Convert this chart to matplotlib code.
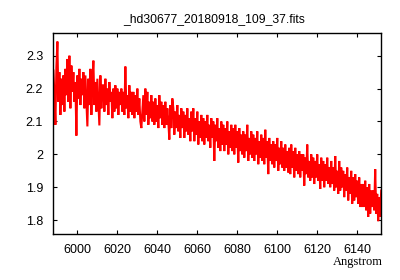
import numpy as np
import matplotlib
matplotlib.use("Agg")
import matplotlib.pyplot as plt

title = "_hd30677_20180918_109_37.fits"
x_label = "Angstrom"
wave_start = 5988.0
wave_step = 0.5
flux = [
    2.255, 2.18, 2.09, 2.265, 2.343, 2.16, 2.25, 2.12, 2.23, 2.15,
    2.24, 2.13, 2.26, 2.18, 2.29, 2.16, 2.30, 2.14, 2.27, 2.19,
    2.25, 2.16, 2.22, 2.057, 2.24, 2.17, 2.26, 2.15, 2.23, 2.18,
    2.25, 2.14, 2.24, 2.16, 2.085, 2.23, 2.15, 2.26, 2.12, 2.22,
    2.285, 2.15, 2.22, 2.13, 2.23, 2.16, 2.088, 2.24, 2.14, 2.21,
    2.21, 2.13, 2.23, 2.15, 2.20, 2.12, 2.22, 2.16, 2.19, 2.11,
    2.20, 2.13, 2.21, 2.14, 2.20, 2.12, 2.19, 2.15, 2.20, 2.13,
    2.19, 2.12, 2.267, 2.14, 2.18, 2.11, 2.21, 2.13, 2.19, 2.12,
    2.19, 2.11, 2.18, 2.13, 2.20, 2.12, 2.17, 2.10, 2.08, 2.13,
    2.18, 2.10, 2.20, 2.12, 2.19, 2.09, 2.16, 2.11, 2.18, 2.10,
    2.16, 2.09, 2.17, 2.10, 2.15, 2.08, 2.18, 2.11, 2.16, 2.09,
    2.15, 2.08, 2.16, 2.09, 2.14, 2.10, 2.045, 2.15, 2.08, 2.17,
    2.14, 2.06, 2.13, 2.08, 2.15, 2.07, 2.12, 2.05, 2.14, 2.08,
    2.13, 2.05, 2.12, 2.07, 2.14, 2.06, 2.11, 2.04, 2.13, 2.07,
    2.14, 2.04, 2.11, 2.06, 2.13, 2.03, 2.10, 2.05, 2.12, 2.04,
    2.11, 2.03, 2.10, 2.05, 2.12, 2.04, 2.09, 2.02, 2.11, 2.05,
    2.10, 1.98, 2.09, 2.04, 2.11, 2.02, 2.08, 2.01, 2.10, 2.03,
    2.09, 2.01, 2.08, 2.03, 2.10, 2.00, 2.07, 2.02, 2.09, 2.01,
    2.08, 2.00, 2.09, 2.02, 2.07, 1.975, 2.08, 2.01, 2.06, 2.00,
    2.07, 1.99, 2.06, 2.01, 2.09, 1.98, 2.05, 2.00, 2.07, 1.99,
    2.06, 1.98, 2.05, 2.00, 2.07, 1.97, 2.04, 1.99, 2.06, 1.98,
    2.05, 1.97, 2.075, 1.99, 2.04, 1.94, 2.05, 1.98, 2.03, 1.97,
    2.04, 1.96, 2.03, 1.98, 2.05, 1.95, 2.02, 1.97, 2.04, 1.96,
    2.02, 1.95, 2.03, 1.96, 2.01, 1.945, 2.02, 1.94, 2.03, 1.96,
    2.01, 1.93, 2.02, 1.95, 2.00, 1.94, 2.01, 1.93, 2.00, 1.95,
    2.00, 1.905, 1.99, 1.94, 2.03, 1.93, 1.98, 1.92, 2.00, 1.93,
    1.99, 1.91, 1.98, 1.93, 2.00, 1.92, 1.97, 1.895, 1.99, 1.92,
    1.98, 1.90, 1.97, 1.92, 1.99, 1.91, 1.96, 1.90, 1.98, 1.91,
    1.96, 1.89, 1.995, 1.90, 1.95, 1.88, 1.98, 1.89, 1.96, 1.90,
    1.95, 1.87, 1.94, 1.89, 1.96, 1.86, 1.93, 1.88, 1.95, 1.85,
    1.93, 1.86, 1.94, 1.87, 1.92, 1.85, 1.93, 1.84, 1.91, 1.84,
    1.91, 1.84, 1.92, 1.83, 1.90, 1.81, 1.91, 1.82, 1.89, 1.84,
    1.89, 1.83, 1.955, 1.82, 1.88, 1.797, 1.87, 1.81, 1.89,
]
x_ticks = [6000, 6020, 6040, 6060, 6080, 6100, 6120, 6140]
y_ticks = [1.8, 1.9, 2.0, 2.1, 2.2, 2.3]
y_tick_labels = ["1.8", "1.9", "2", "2.1", "2.2", "2.3"]

wave = wave_start + wave_step * np.arange(len(flux))

fig = plt.figure(figsize=(4, 2.8), dpi=100)
ax = fig.add_axes([0.132, 0.1643, 0.8205, 0.7167])
ax.plot(wave, flux, color="#ff0000", lw=1.5, solid_joinstyle="miter")
ax.set_xlim(5987.7, 6151.9)
ax.set_ylim(1.758, 2.368)
ax.set_xticks(x_ticks)
ax.set_xticklabels([str(t) for t in x_ticks])
ax.set_yticks(y_ticks)
ax.set_yticklabels(y_tick_labels)
ax.tick_params(direction="in", length=3, width=0.8, top=True, right=True,
               labelsize=9, pad=7, colors="black")
for lab in ax.get_xticklabels() + ax.get_yticklabels():
    lab.set_family("Liberation Sans")
for s in ax.spines.values():
    s.set_linewidth(1.0)
    s.set_color("black")

fig.text(0.535, 0.932, title, ha="center", va="center", fontsize=8.7,
         family="Liberation Sans")
fig.text(0.958, 0.064, x_label, ha="right", va="center", fontsize=9,
         family="Liberation Serif")

fig.savefig("out.png", dpi=100)
